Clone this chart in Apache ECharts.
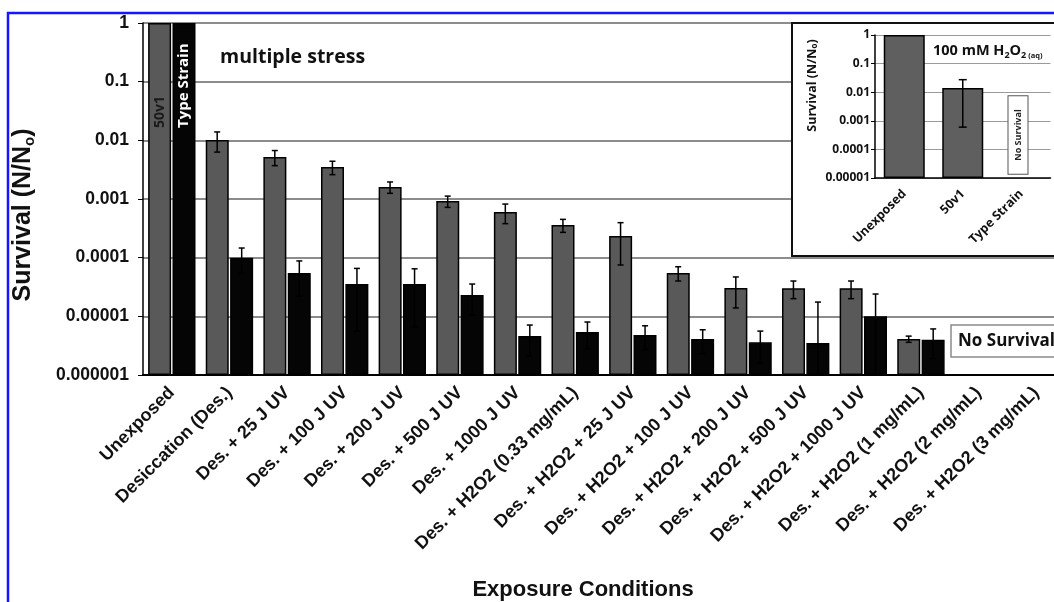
<!DOCTYPE html>
<html>
<head>
<meta charset="utf-8">
<script src="https://cdn.jsdelivr.net/npm/echarts@6/dist/echarts.min.js"></script>
<style>
  html, body { margin: 0; padding: 0; background: #fff; }
  #chart { width: 1054px; height: 602px; }
</style>
</head>
<body>
<div id="chart"></div>
<script>
// main chart: survival after multiple stress
const categories = ['Unexposed', 'Desiccation (Des.)', 'Des. + 25 J UV', 'Des. + 100 J UV', 'Des. + 200 J UV',
  'Des. + 500 J UV', 'Des. + 1000 J UV', 'Des. + H2O2 (0.33 mg/mL)', 'Des. + H2O2 + 25 J UV',
  'Des. + H2O2 + 100 J UV', 'Des. + H2O2 + 200 J UV', 'Des. + H2O2 + 500 J UV', 'Des. + H2O2 + 1000 J UV',
  'Des. + H2O2 (1 mg/mL)', 'Des. + H2O2 (2 mg/mL)', 'Des. + H2O2 (3 mg/mL)']
const strain50v1 = [1, 0.0101, 0.0052, 0.0035, 0.0016, 0.00092, 0.0006, 0.00036, 0.000235, 0.000055,
  0.0000304, 0.00003, 0.00003, 0.0000041, null, null]
const strain50v1Sd = [0, 0.0038, 0.0015, 0.0009, 0.00035, 0.0002, 0.00022, 0.00009, 0.00016, 0.000015,
  0.0000165, 0.00001, 0.00001, 0.0000005, null, null]
const typeStrain = [1, 0.0001, 0.000055, 0.0000356, 0.0000356, 0.000023, 0.0000046, 0.0000054, 0.0000048,
  0.0000041, 0.0000036, 0.0000035, 0.00001, 0.000004, null, null]
const typeStrainSd = [0, 0.000046, 0.000033, 0.00003, 0.000029, 0.0000125, 0.0000025, 0.0000026, 0.0000021,
  0.0000018, 0.000002, 0.000014, 0.000014, 0.0000021, null, null]
const yTicks = ['1', '0.1', '0.01', '0.001', '0.0001', '0.00001', '0.000001']

// inset: 100 mM H2O2 (aq)
const insetCategories = ['Unexposed', '50v1', 'Type Strain']
const insetValues = [1, 0.014, null]
const insetSd = [0, 0.0134, null]

const ARIAL = 'Liberation Sans'
const CAL = 'Open Sans'

function errData (vals, sds, floor) {
  const out = []
  vals.forEach((v, i) => {
    if (v == null || !sds[i]) return
    out.push([i, Math.max(v - sds[i], floor), v + sds[i]])
  })
  return out
}

function errorBar (offset, cap) {
  return function (params, api) {
    const lo = api.coord([api.value(0), api.value(1)])
    const hi = api.coord([api.value(0), api.value(2)])
    const x = lo[0] + offset
    const st = { stroke: '#000', lineWidth: 1.5 }
    return {
      type: 'group',
      children: [
        { type: 'line', shape: { x1: x, y1: hi[1], x2: x, y2: lo[1] }, style: st },
        { type: 'line', shape: { x1: x - cap / 2, y1: hi[1], x2: x + cap / 2, y2: hi[1] }, style: st },
        { type: 'line', shape: { x1: x - cap / 2, y1: lo[1], x2: x + cap / 2, y2: lo[1] }, style: st }
      ]
    }
  }
}

const chart = echarts.init(document.getElementById('chart'))
chart.setOption({
  animation: false,
  backgroundColor: '#fff',
  grid: [
    { left: 143, top: 23, width: 922, height: 352, outerBoundsMode: 'none' },
    { left: 875, top: 35, width: 175.5, height: 143, outerBoundsMode: 'none' }
  ],
  xAxis: [{
    type: 'category',
    gridIndex: 0,
    data: categories,
    axisLine: { lineStyle: { color: '#000', width: 2 } },
    axisTick: { length: 5, lineStyle: { color: '#000', width: 1.5 } },
    axisLabel: {
      interval: 0,
      rotate: 45,
      margin: 15,
      padding: [14, 0, 0, 0],
      fontFamily: ARIAL,
      fontWeight: 'bold',
      fontSize: 18,
      color: '#111'
    },
    name: 'Exposure Conditions',
    nameLocation: 'middle',
    nameGap: 204,
    nameTextStyle: {
      fontFamily: ARIAL,
      fontWeight: 'bold',
      fontSize: 22,
      color: '#111',
      padding: [0, 42, 0, 0]
    }
  }, {
    type: 'category',
    gridIndex: 1,
    data: insetCategories,
    z: 10,
    axisLine: { lineStyle: { color: '#000', width: 1.5 } },
    axisTick: { length: 4, lineStyle: { color: '#000' } },
    axisLabel: {
      interval: 0,
      rotate: 45,
      margin: 14,
      fontFamily: CAL,
      fontWeight: 'bold',
      fontSize: 12.5,
      color: '#111'
    }
  }],
  yAxis: [{
    type: 'log',
    logBase: 10,
    gridIndex: 0,
    min: 0.000001,
    max: 1,
    startValue: 0.000001,
    axisLine: { show: true, lineStyle: { color: '#000', width: 1.5 } },
    axisTick: { show: true, length: 5, lineStyle: { color: '#000' } },
    splitLine: { lineStyle: { color: '#666', width: 1.5 } },
    axisLabel: {
      formatter: v => yTicks[Math.round(-Math.log10(v))],
      margin: 14,
      fontFamily: ARIAL,
      fontWeight: 'bold',
      fontSize: 17.5,
      color: '#111'
    },
    name: 'Survival (N/N{sub|o})',
    nameLocation: 'middle',
    nameGap: 106,
    nameTextStyle: {
      fontFamily: ARIAL,
      fontWeight: 'bold',
      fontSize: 25,
      lineHeight: 27,
      color: '#111',
      padding: [0, 32, 0, 0],
      rich: {
        sub: { fontFamily: ARIAL, fontWeight: 'bold', fontSize: 15, lineHeight: 13, verticalAlign: 'bottom', color: '#111' }
      }
    }
  }, {
    type: 'log',
    logBase: 10,
    gridIndex: 1,
    min: 0.00001,
    max: 1,
    startValue: 0.00001,
    z: 10,
    axisLine: { show: true, lineStyle: { color: '#000', width: 1.5 } },
    axisTick: { show: true, length: 4, lineStyle: { color: '#000' } },
    splitLine: { lineStyle: { color: '#9a9a9a', width: 1 } },
    axisLabel: {
      formatter: v => yTicks[Math.round(-Math.log10(v))],
      margin: 5,
      fontFamily: CAL,
      fontWeight: 'bold',
      fontSize: 12,
      color: '#111'
    },
    name: 'Survival (N/N{sub|o})',
    nameLocation: 'middle',
    nameGap: 56,
    nameTextStyle: {
      fontFamily: CAL,
      fontWeight: 'bold',
      fontSize: 12.5,
      lineHeight: 14,
      color: '#111',
      padding: [0, 0, 0, 42],
      rich: {
        sub: { fontFamily: CAL, fontWeight: 'bold', fontSize: 8, lineHeight: 8, verticalAlign: 'bottom', color: '#111' }
      }
    }
  }],
  series: [{
    type: 'bar',
    name: '50v1',
    xAxisIndex: 0,
    yAxisIndex: 0,
    barWidth: 23,
    barGap: '6%',
    itemStyle: { color: '#595959', borderColor: '#000', borderWidth: 1.5 },
    data: strain50v1.map((v, i) => i === 0 ? {
      value: v,
      label: {
        show: true,
        formatter: '50v1',
        rotate: 90,
        position: [11.5, 105],
        align: 'left',
        verticalAlign: 'middle',
        fontFamily: CAL,
        fontWeight: 'bold',
        fontSize: 14,
        color: '#1a1a1a'
      }
    } : v)
  }, {
    type: 'bar',
    name: 'Type Strain',
    xAxisIndex: 0,
    yAxisIndex: 0,
    barWidth: 23,
    barGap: '6%',
    itemStyle: { color: '#050505', borderColor: '#000', borderWidth: 1.5 },
    data: typeStrain.map((v, i) => i === 0 ? {
      value: v,
      label: {
        show: true,
        formatter: 'Type Strain',
        rotate: 90,
        position: [11.5, 105],
        align: 'left',
        verticalAlign: 'middle',
        fontFamily: CAL,
        fontWeight: 'bold',
        fontSize: 15,
        color: '#fff'
      }
    } : v)
  }, {
    type: 'custom',
    xAxisIndex: 0,
    yAxisIndex: 0,
    z: 5,
    encode: { x: 0, y: [1, 2] },
    renderItem: errorBar(-12.25, 6),
    data: errData(strain50v1, strain50v1Sd, 0.000001)
  }, {
    type: 'custom',
    xAxisIndex: 0,
    yAxisIndex: 0,
    z: 5,
    encode: { x: 0, y: [1, 2] },
    renderItem: errorBar(12.25, 6),
    data: errData(typeStrain, typeStrainSd, 0.000001)
  }, {
    type: 'bar',
    xAxisIndex: 1,
    yAxisIndex: 1,
    z: 11,
    barWidth: 41,
    itemStyle: { color: '#5f5f5f', borderColor: '#000', borderWidth: 1.5 },
    data: insetValues
  }, {
    type: 'custom',
    xAxisIndex: 1,
    yAxisIndex: 1,
    z: 12,
    encode: { x: 0, y: [1, 2] },
    renderItem: errorBar(0, 8),
    data: errData(insetValues, insetSd, 0.00001)
  }],
  graphic: [
    {
      type: 'text', x: 220, y: 57, z: 5,
      style: { text: 'multiple stress', fontFamily: CAL, fontWeight: 'bold', fontSize: 19.5, fill: '#111', verticalAlign: 'middle' }
    },
    {
      type: 'rect', z: 4,
      shape: { x: 951, y: 325, width: 130, height: 32 },
      style: { fill: '#fff', stroke: '#8a8a8a', lineWidth: 1.5 }
    },
    {
      type: 'text', x: 958, y: 341, z: 5,
      style: { text: 'No Survival', fontFamily: CAL, fontWeight: 'bold', fontSize: 17, fill: '#111', verticalAlign: 'middle' }
    },
    {
      type: 'rect', z: 6,
      shape: { x: 792, y: 23, width: 290, height: 233 },
      style: { fill: '#fff', stroke: '#111', lineWidth: 2 }
    },
    {
      type: 'text', x: 933, y: 51, z: 15,
      style: {
        text: '100 mM H{s|2}O{s|2}{a| (aq)}',
        fontFamily: CAL, fontWeight: 'bold', fontSize: 14.5, lineHeight: 18, fill: '#111', verticalAlign: 'middle',
        rich: {
          s: { fontFamily: CAL, fontWeight: 'bold', fontSize: 9, lineHeight: 10, verticalAlign: 'bottom', fill: '#111' },
          a: { fontFamily: CAL, fontWeight: 'bold', fontSize: 7.5, lineHeight: 9, verticalAlign: 'bottom', fill: '#111' }
        }
      }
    },
    {
      type: 'text', x: 1018, y: 135, z: 15, rotation: Math.PI / 2,
      style: {
        text: 'No Survival', fontFamily: CAL, fontWeight: 'bold', fontSize: 9, fill: '#222',
        align: 'center', verticalAlign: 'middle',
        backgroundColor: '#fff', borderColor: '#555', borderWidth: 1, padding: [5, 13]
      }
    },
    {
      type: 'rect', z: 30,
      shape: { x: 8, y: 13, width: 1090, height: 640 },
      style: { fill: 'none', stroke: '#1515ff', lineWidth: 2.5 }
    }
  ]
})
</script>
</body>
</html>
